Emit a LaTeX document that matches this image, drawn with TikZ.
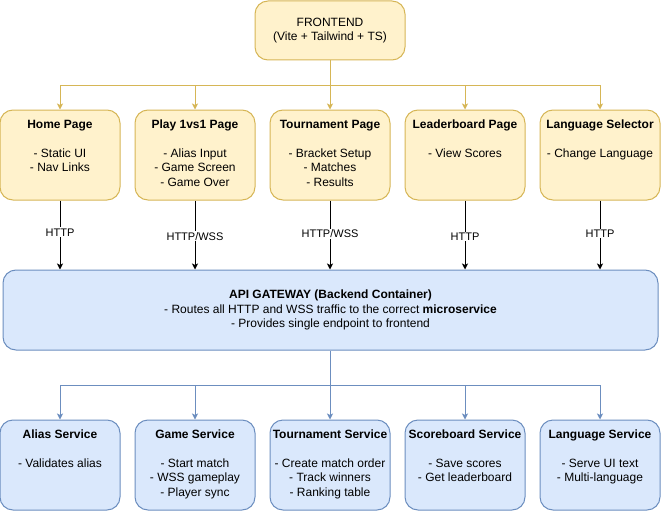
\documentclass[tikz,border=0pt]{standalone}
\usepackage{fontspec}
\setmainfont{Liberation Sans}
\usetikzlibrary{arrows.meta}
\definecolor{pagefill}{HTML}{FFF2CC}
\definecolor{pageline}{HTML}{D6B656}
\definecolor{servfill}{HTML}{DAE8FC}
\definecolor{servline}{HTML}{6C8EBF}
\newcommand\boxtext[2]{\begin{minipage}[c][90pt][t]{120pt}\centering
  \vspace*{8pt}\strut\textbf{#1}\\[14.5pt]#2\end{minipage}}

\begin{document}
\begin{tikzpicture}[x=1pt, y=-1pt,
    font=\fontsize{12}{14.5}\selectfont,
    pagebox/.style={draw=pageline, fill=pagefill, line width=1pt, rounded corners=13pt, inner sep=0pt},
    servbox/.style={draw=servline, fill=servfill, line width=1pt, rounded corners=13pt, inner sep=0pt},
    arr/.style={-{Stealth[length=6pt, width=6pt, inset=1.5pt]}},
    proto/.style={fill=white, inner sep=1pt, font=\fontsize{11}{13}\selectfont}]
    \useasboundingbox (0,0) rectangle (661,511);

    \coordinate (Top) at (330, 85);
    \coordinate (Bot) at (330, 385);

    % frontend and its pages
    \node[pagebox, minimum width=150, minimum height=59, align=center] (frontend) at (330, 30.5)
        {FRONTEND\\(Vite + Tailwind + TS)};

    \node[pagebox] (home) at (60, 155) {\boxtext{Home Page}{- Static UI\\- Nav Links}};
    \node[pagebox] (play) at (195, 155) {\boxtext{Play 1vs1 Page}{- Alias Input\\- Game Screen\\- Game Over}};
    \node[pagebox] (tourn) at (330, 155) {\boxtext{Tournament Page}{- Bracket Setup\\- Matches\\- Results}};
    \node[pagebox] (board) at (465, 155) {\boxtext{Leaderboard Page}{- View Scores}};
    \node[pagebox] (lang) at (600, 155) {\boxtext{Language Selector}{- Change Language}};

    % gateway
    \node[servbox, minimum width=655, minimum height=80, align=center,
          font=\fontsize{12}{14.2}\selectfont] (gateway) at (330.5, 310)
        {\textbf{API GATEWAY (Backend Container)}\\
         - Routes all HTTP and WSS traffic to the correct \textbf{microservice}\\
         - Provides single endpoint to frontend};

    % services
    \node[servbox] (alias) at (60, 465) {\boxtext{Alias Service}{- Validates alias}};
    \node[servbox] (game) at (195, 465) {\boxtext{Game Service}{- Start match\\- WSS gameplay\\- Player sync}};
    \node[servbox] (tservice) at (330, 465) {\boxtext{Tournament Service}{- Create match order\\- Track winners\\- Ranking table}};
    \node[servbox] (score) at (465, 465) {\boxtext{Scoreboard Service}{- Save scores\\- Get leaderboard}};
    \node[servbox] (lservice) at (600, 465) {\boxtext{Language Service}{- Serve UI text\\- Multi-language}};

    % frontend -> pages
    \draw[pageline, line width=1pt] (frontend.south) -- (Top);
    \draw[pageline, line width=1pt, arr] (Top) -| (home.north);
    \draw[pageline, line width=1pt, arr] (Top) -| (play.north);
    \draw[pageline, line width=1pt, arr] (Top) -- (tourn.north);
    \draw[pageline, line width=1pt, arr] (Top) -| (board.north);
    \draw[pageline, line width=1pt, arr] (Top) -| (lang.north);

    % pages -> gateway
    \draw[line width=1pt, arr] (home.south) -- (home.south |- gateway.north) node[proto, pos=0.46] {HTTP};
    \draw[line width=1pt, arr] (play.south) -- (play.south |- gateway.north) node[proto, pos=0.52] {HTTP/WSS};
    \draw[line width=1pt, arr] (tourn.south) -- (tourn.south |- gateway.north) node[proto, pos=0.48] {HTTP/WSS};
    \draw[line width=1pt, arr] (board.south) -- (board.south |- gateway.north) node[proto, pos=0.52] {HTTP};
    \draw[line width=1pt, arr] (lang.south) -- (lang.south |- gateway.north) node[proto, pos=0.48] {HTTP};

    % gateway -> services
    \draw[servline, line width=1pt] (gateway.south -| Bot) -- (Bot);
    \draw[servline, line width=1pt, arr] (Bot) -| (alias.north);
    \draw[servline, line width=1pt, arr] (Bot) -| (game.north);
    \draw[servline, line width=1pt, arr] (Bot) -- (tservice.north);
    \draw[servline, line width=1pt, arr] (Bot) -| (score.north);
    \draw[servline, line width=1pt, arr] (Bot) -| (lservice.north);
\end{tikzpicture}
\end{document}
